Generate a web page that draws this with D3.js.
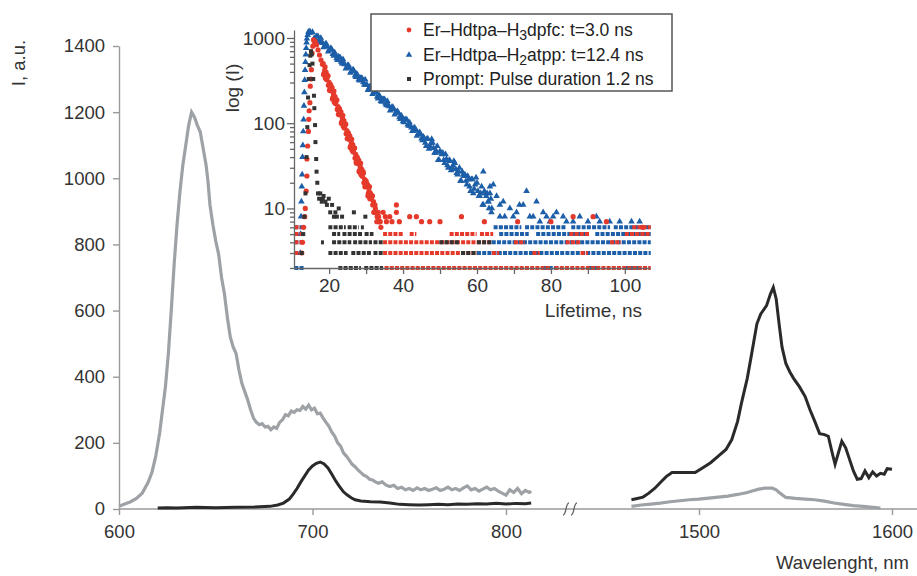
<!DOCTYPE html>
<html>
<head>
<meta charset="utf-8">
<script src="https://cdn.jsdelivr.net/npm/d3@7"></script>
<style>
  body { margin: 0; background: #fff; }
  svg { font-family: "Liberation Sans", Arial, sans-serif; }
  .axis text { fill: #333; }
</style>
</head>
<body>
<svg width="917" height="576"></svg>
<script>
// main spectra [wavelength nm, intensity a.u.]
const grayLeft = [[600,8],[603,15],[606,22],[609,32],[612,48],[615,80],[617,110],[619,160],[621,230],[622.5,300],[624,370],[625.5,470],[627,600],[628.5,740],[630,860],[631.5,960],[633,1040],[634.5,1100],[636,1160],[637.5,1200],[639,1185],[640.5,1160],[642,1140],[643.5,1090],[645,1040],[646,990],[647,920],[648.5,860],[650,810],[651.5,770],[653,700],[654.5,650],[656,580],[657.5,520],[659,490],[660.5,470],[662,420],[663.5,380],[665,355],[666.5,330],[668,300],[669.5,275],[671,262],[672.5,255],[674,258],[675.5,248],[677,250],[678.5,240],[680,248],[681.5,244],[683,262],[684.5,270],[686,285],[687.5,282],[689,296],[690.5,292],[692,300],[693.5,298],[695,310],[696.5,302],[698,314],[699.5,300],[701,305],[702.5,288],[704,290],[705.5,275],[707,262],[708.5,250],[710,232],[711.5,220],[713,200],[714.5,190],[716,170],[717.5,160],[719,148],[720.5,135],[722,128],[723.5,118],[725,110],[726.5,102],[728,98],[729.5,90],[731,88],[732.5,82],[734,78],[736,82],[738,72],[740,68],[742,72],[744,62],[746,66],[748,58],[750,62],[752,56],[754,64],[756,58],[758,62],[760,56],[762,60],[764,64],[766,56],[768,60],[770,66],[772,58],[774,62],[776,56],[778,64],[780,70],[782,58],[784,62],[786,54],[788,60],[790,66],[792,58],[794,62],[796,54],[798,48],[800,42],[802,58],[804,50],[806,62],[808,46],[810,56],[812,50],[813,54]];
const blackLeft = [[620,3],[625,4],[630,3],[640,5],[650,4],[660,5],[670,6],[678,8],[682,12],[685,18],[688,30],[690,45],[692,62],[694,82],[696,100],[698,118],[700,130],[702,138],[704,142],[706,136],[708,124],[710,105],[712,85],[714,68],[716,52],[718,42],[720,34],[722,28],[725,24],[730,22],[735,21],[740,18],[745,14],[750,13],[755,12],[760,13],[765,14],[770,13],[775,15],[780,14],[785,16],[790,15],[795,17],[800,15],[805,17],[810,16],[813,18]];
const blackRight = [[1465,28],[1468,32],[1471,36],[1474,48],[1477,62],[1480,80],[1483,98],[1486,110],[1490,110],[1494,110],[1498,110],[1502,125],[1506,140],[1510,160],[1514,180],[1517,210],[1520,265],[1522,320],[1525,395],[1527,460],[1530,560],[1532,590],[1535,615],[1537,650],[1538.5,670],[1540,635],[1541.5,560],[1543,490],[1545,440],[1547,415],[1549,395],[1552,370],[1555,340],[1557.5,300],[1560,265],[1562.5,228],[1565,225],[1567,220],[1569,170],[1570.5,135],[1572,165],[1574,205],[1576,185],[1578,150],[1580,115],[1582,90],[1584,92],[1586,115],[1588,95],[1590,112],[1592,100],[1594,108],[1596,105],[1597.5,122],[1600,120]];
const grayRight = [[1465,8],[1470,12],[1475,15],[1480,18],[1485,22],[1490,25],[1495,28],[1500,30],[1505,33],[1510,36],[1515,39],[1520,44],[1525,50],[1528,55],[1531,60],[1534,63],[1538,63],[1540,58],[1542,48],[1545,35],[1550,32],[1555,30],[1560,28],[1565,24],[1570,18],[1575,14],[1580,10],[1585,8],[1590,5],[1594,3]];

const yTicks = [0,200,400,600,800,1000,1200,1400];
const xTicksLeft = [600,700,800];
const xTicksRight = [1500,1600];

// inset decay points [t ns, counts]
const redPts = [[12.6,3],[12.8,4],[13.1,6],[13.4,8],[13.55,10],[13.8,16],[14.0,24],[14.0,38],[14.2,54],[14.4,80],[14.5,111],[14.6,140],[14.8,174],[14.9,272],[15.1,330],[15.2,425],[15.4,664],[15.6,800],[15.8,948],[16.0,900],[16.2,912],[16.6,832],[17.0,724],[17.4,631],[17.8,550],[18.2,490],
 [18.4,501],[18.6,385],[18.8,419],[19.0,337],[19.2,394],[19.4,332],[19.6,361],[19.8,278],[20.0,302],[20.2,244],[20.4,284],[20.6,239],[20.8,261],[21.0,200],[21.2,218],[21.4,176],[21.6,205],[21.8,173],[22.0,188],[22.2,145],[22.4,157],[22.6,127],[22.8,148],[23.0,125],[23.2,136],[23.4,104],[23.6,114],[23.8,92],[24.0,107],[24.2,90],[24.4,98],[24.6,75],[24.8,82],[25.0,66],[25.2,77],[25.4,65],[25.6,71],[25.8,54],[26.0,59],[26.2,48],[26.4,56],[26.6,47],[26.8,51],[27.0,39],[27.2,43],[27.4,34],[27.6,40],[27.8,34],[28.0,37],[28.2,28],[28.4,31],[28.6,25],[28.8,29],[29.0,24],[29.2,27],[29.4,20],[29.6,22],[29.8,18],[30.0,21],[30.2,18],[30.4,19],[30.6,15],[30.8,16],[31.0,13],[31.2,15],[31.4,13],[31.6,14],[31.8,11],[32.0,12],[32.2,9],[32.4,11],[32.6,9],[32.8,9],[33.0,8],[33.2,8],[33.4,8],[33.6,7],[33.8,7],[34.0,6],
 [34.6,9],[35.2,8],[35.5,7],[36.4,8],[37,7],[38.2,11],[38.2,9],[39,7],[41.8,8],[43.6,8],[45,7],[47.2,7],[50,7],[55.8,8],[62,7],[71,7],[80,7],[86,8],[91.4,8],[95,7],[104.9,6]];
const redBand = [[18.5,369],[18.9,457],[19.3,326],[19.7,360],[20.1,244],[20.5,270],[20.9,192],[21.3,238],[21.7,170],[22.1,187],[22.5,127],[22.9,141],[23.3,100],[23.7,124],[24.1,88],[24.5,97],[24.9,66],[25.3,73],[25.7,52],[26.1,65],[26.5,46],[26.9,51],[27.3,35],[27.7,38],[28.1,27],[28.5,34],[28.9,24],[29.3,26],[29.7,18],[30.1,20],[30.5,14],[30.9,18],[31.3,13],[31.7,14],[32.1,9],[32.5,10],[32.9,7],[33.3,9],[33.7,7]];
const bluePts = [[12.2,3],[12.3,5],[12.4,8],[12.5,12],[12.6,18],[12.7,25],[12.8,40],[12.9,55],[13.0,80],[13.1,110],[13.2,160],[13.3,230],[13.4,320],[13.5,420],[13.6,520],[13.7,640],[13.8,760],[13.9,880],[14.0,980],[14.2,1080],[14.4,1180],[14.6,1150],[14.8,1200],
 [15.0,1148],[15.5,1175],[16.0,1000],[16.5,1047],[17.0,1047],[17.5,891],[18.0,891],[18.5,776],[19.0,851],[19.5,794],[20.0,724],[20.5,759],[21.0,646],[21.5,676],[22.0,575],[22.5,603],[23.0,589],[23.5,501],[24.0,501],[24.5,437],[25.0,479],[25.5,447],[26.0,407],[26.5,427],[27.0,363],[27.5,380],[28.0,324],[28.5,339],[29.0,331],[29.5,282],[30.0,282],[30.5,245],[31.0,269],[31.5,251],[32.0,229],[32.5,240],[33.0,204],[33.5,214],[34.0,182],[34.5,191],[35.0,191],[35.5,162],[36.0,162],[36.5,141],[37.0,155],[37.5,145],[38.0,132],[38.5,138],[39.0,117],[39.5,123],[40.0,105],[40.5,110],[41.0,110],[41.5,93],[42.0,93],[42.5,81],[43.0,89],[43.5,83],[44.0,74],[44.5,78],[45.0,66],[45.5,69],[46.0,59],
 [46.5,66],[47.0,50],[47.5,58],[48.0,59],[48.5,45],[49.0,47],[49.5,37],[50.0,47],[50.5,43],[51.0,37],[51.5,43],[52.0,32],[52.5,37],[53.0,28],[53.5,32],[54.0,34],[54.5,26],[55.0,27],[55.5,21],[56.0,27],[56.5,24],[57.0,21],[57.5,24],[58.0,18],[58.5,22],[59.0,15],[59.5,19],[60.0,20],[60.5,14],[61.0,15],[61.5,11],[62.0,16],[62.5,14],[63.0,12],[63.5,15],[64.0,10],
 [61.7,27],[63.1,12],[63.5,18],[63.9,9],[64.4,19],[65.3,14],[66.2,8],[66.2,11],[67.1,12],[67.5,8],[68.9,10],[69.8,8],[70.7,9],[71.5,11],[72.5,11],[73.4,16],[74.3,8],[75.2,8],[76.1,12],[77,7],[77.9,9],[78.8,8],[79.7,7],[80.6,8],[81.5,9],[83.3,8],[84.2,7],[86,7],[87.8,8],[90,7],[92.3,8],[93.2,7],[95.9,7],[98.6,7],[101.8,7],[104,7]];
const blueBand = [[16.25,977],[16.75,1047],[17.25,933],[17.75,1000],[18.25,871],[18.75,794],[19.25,851],[19.75,692],[20.25,741],[20.75,724],[21.25,617],[21.75,631],[22.25,550],[22.75,589],[23.25,525],[23.75,562],[24.25,490],[24.75,447],[25.25,479],[25.75,389],[26.25,417],[26.75,407],[27.25,347],[27.75,363],[28.25,316],[28.75,339],[29.25,302],[29.75,324],[30.25,282],[30.75,257],[31.25,269],[31.75,219],[32.25,234],[32.75,229],[33.25,195],[33.75,204],[34.25,178],[34.75,191],[35.25,170],[35.75,182],[36.25,158],[36.75,145],[37.25,155],[37.75,126],[38.25,135],[38.75,132],[39.25,112],[39.75,117],[40.25,102],[40.75,110],[41.25,96],[41.75,102],[42.25,89],[42.75,81],[43.25,87],[43.75,71],[44.25,76],[44.75,74],[45.25,63],[45.75,66],
 [46.25,54],[46.75,65],[47.25,54],[47.75,65],[48.25,51],[48.75,45],[49.25,54],[49.75,37],[50.25,45],[50.75,45],[51.25,34],[51.75,38],[52.25,30],[52.75,36],[53.25,30],[53.75,36],[54.25,29],[54.75,25],[55.25,30],[55.75,21],[56.25,25],[56.75,25],[57.25,19],[57.75,22],[58.25,16],[58.75,22],[59.25,17],[59.75,23],[60.25,16],[60.75,14],[61.25,18],[61.75,11],[62.25,15],[62.75,15],[63.25,10],[63.75,13]];
const blackPts = [[12.6,3],[13.0,5],[13.3,8],[13.6,15],[13.9,40],[14.1,90],[14.3,200],[14.5,330],[14.7,480],[14.9,620],[15.1,700],[15.3,640],[15.5,500],[15.7,330],[15.9,210],[16.0,150],[16.2,95],[16.3,60],[16.5,38],[16.6,27],[16.8,20],[17.0,15],[17.3,13],[17.6,15],[18.0,12],[18.3,13],[18.5,14],[19.0,12],[19.4,11],[19.9,13],[20.3,9],[20.8,11],[21.3,8],[21.7,9],[22.1,8],[22.6,10],[23.5,8],[26.7,9],[29.8,8]];

// floor runs of overlapping markers [t start, t end, counts]
const redRuns = [[10.6,12.2,6],[102,107,6],[10.6,12.5,5],[34.6,40,5],[41.8,43.6,5],[52.6,59.9,5],[60.8,64.4,5],[85,90.5,5],[100,107,5],[10.6,12.6,4],[34.6,64,4],[70,73,4],[84,88,4],[96,99,4],[10.6,12.4,3],[34.6,60,3],[64,66,3],[75,77,3],[88,90,3],[35,80,2],[81,107,2]];
const blueRuns = [[10.6,12.8,6],[64.5,72,6],[73,84,6],[85.5,96,6],[97,107,6],[10.6,12.5,5],[66,74,5],[76,90,5],[92,107,5],[10.6,12.8,4],[64,107,4],[10.6,12.6,3],[60,107,3],[10.6,13.2,2],[78,82,2],[90,93,2],[100,104,2]];
const blackRuns = [[19.8,24.5,6],[25,28,6],[28.6,29.4,6],[20.8,23,5],[23.6,29,5],[29.6,32,5],[17.8,18.6,4],[20.8,26,4],[26.5,31.6,4],[32,34.6,4],[49.8,55.2,4],[60,64,4],[19.8,25,3],[26,31.5,3],[32,34.6,3],[55.7,60,3],[22.5,28.6,2],[29.5,34.6,2]];

const inXTicks = [20,40,60,80,100];
const inXMinor = [30,50,70,90];
const inYTicks = [10,100,1000];
const inYMinor = [2,3,4,5,6,7,8,9,20,30,40,50,60,70,80,90,200,300,400,500,600,700,800,900];

const RED = "#e53a2b", BLUE = "#1d5ea8", DARK = "#333333", GRAY = "#9ea2a6";

const svg = d3.select("svg");
svg.append("rect").attr("width", 917).attr("height", 576).attr("fill", "#fff");

// ---- main chart
const xL = d3.scaleLinear().domain([600, 800]).range([119, 506]);
const xR = d3.scaleLinear().domain([1500, 1600]).range([699, 892]);
const y = d3.scaleLinear().domain([0, 1400]).range([509, 46]);

const yAxis = svg.append("g").attr("class", "axis").attr("transform", "translate(119,0)")
  .call(d3.axisLeft(y).tickValues(yTicks).tickFormat(d3.format("d")).tickSize(6).tickPadding(8).tickSizeOuter(0));
yAxis.selectAll("text").attr("font-size", 18.5).attr("font-family", "Liberation Sans, Arial");

const xaL = svg.append("g").attr("class", "axis").attr("transform", "translate(0,509)")
  .call(d3.axisBottom(xL).tickValues(xTicksLeft).tickFormat(d3.format("d")).tickSize(6).tickPadding(10));
const xaR = svg.append("g").attr("class", "axis").attr("transform", "translate(0,509)")
  .call(d3.axisBottom(xR).tickValues(xTicksRight).tickFormat(d3.format("d")).tickSize(6).tickPadding(10));
[xaL, xaR].forEach(a => {
  a.select(".domain").remove();
  a.selectAll("text").attr("font-size", 18.5).attr("font-family", "Liberation Sans, Arial");
});
svg.append("line").attr("x1", 119).attr("x2", 917).attr("y1", 509).attr("y2", 509);
svg.selectAll(".axis path, .axis line, svg > line").attr("stroke", "#9a9a9a").attr("stroke-width", 1.4);

// axis break marks
[566, 574].forEach(bx => {
  svg.append("path")
    .attr("d", `M${bx-3},${515} Q${bx-1.2},${515} ${bx},${509} T${bx+3},${503}`)
    .attr("fill", "none").attr("stroke", "#666").attr("stroke-width", 1.3);
});

const lineL = d3.line().x(d => xL(d[0])).y(d => y(d[1]));
const lineR = d3.line().x(d => xR(d[0])).y(d => y(d[1]));
svg.append("path").attr("d", lineL(grayLeft)).attr("fill", "none").attr("stroke", GRAY).attr("stroke-width", 3.2);
svg.append("path").attr("d", lineR(grayRight)).attr("fill", "none").attr("stroke", GRAY).attr("stroke-width", 3.2);
svg.append("path").attr("d", lineL(blackLeft)).attr("fill", "none").attr("stroke", "#2a2a2a").attr("stroke-width", 3);
svg.append("path").attr("d", lineR(blackRight)).attr("fill", "none").attr("stroke", "#2a2a2a").attr("stroke-width", 3);

svg.append("text").attr("transform", "translate(25,63) rotate(-90)").attr("text-anchor", "middle")
  .attr("font-size", 18.5).attr("fill", "#333").text("I, a.u.");
svg.append("text").attr("x", 909).attr("y", 569).attr("text-anchor", "end")
  .attr("font-size", 18.5).attr("fill", "#333").text("Wavelenght, nm");

// ---- inset
const xi = d3.scaleLinear().domain([10.5, 106.8]).range([294, 650]);
const yi = d3.scaleLog().domain([2, 1240]).range([268, 30]);
const inset = svg.append("g");

const drawRuns = (runs, color) => {
  inset.selectAll(null).data(runs).enter().append("line")
    .attr("x1", d => xi(d[0])).attr("x2", d => xi(d[1]))
    .attr("y1", d => yi(d[2])).attr("y2", d => yi(d[2]))
    .attr("stroke", color).attr("stroke-width", 4).attr("stroke-dasharray", "4,1.2");
};

drawRuns(blueRuns, BLUE);
inset.selectAll(null).data(bluePts.concat(blueBand)).enter().append("path")
  .attr("transform", d => `translate(${xi(d[0])},${yi(d[1])})`)
  .attr("d", d3.symbol(d3.symbolTriangle, 19)).attr("fill", BLUE);
drawRuns(redRuns, RED);
inset.selectAll(null).data(redPts.concat(redBand)).enter().append("circle")
  .attr("cx", d => xi(d[0])).attr("cy", d => yi(d[1])).attr("r", 2.6).attr("fill", RED);
drawRuns(blackRuns, DARK);
inset.selectAll(null).data(blackPts).enter().append("rect")
  .attr("x", d => xi(d[0]) - 2).attr("y", d => yi(d[1]) - 2).attr("width", 4).attr("height", 4).attr("fill", DARK);

const iy = inset.append("g").attr("class", "axis").attr("transform", "translate(294,0)")
  .call(d3.axisLeft(yi).tickValues(inYTicks).tickFormat(d3.format("d")).tickSize(7).tickPadding(2).tickSizeOuter(0));
inset.append("g").attr("class", "axis").attr("transform", "translate(294,0)")
  .call(d3.axisLeft(yi).tickValues(inYMinor).tickFormat("").tickSize(4).tickSizeOuter(0))
  .select(".domain").remove();
const ix = inset.append("g").attr("class", "axis").attr("transform", "translate(0,268)")
  .call(d3.axisBottom(xi).tickValues(inXTicks).tickSize(6).tickPadding(5).tickSizeOuter(0));
inset.append("g").attr("class", "axis").attr("transform", "translate(0,268)")
  .call(d3.axisBottom(xi).tickValues(inXMinor).tickFormat("").tickSize(6).tickSizeOuter(0))
  .select(".domain").remove();
inset.selectAll(".axis path, .axis line").attr("stroke", "#666").attr("stroke-width", 1.3);
[iy, ix].forEach(a => a.selectAll("text").attr("font-size", 19).attr("font-family", "Liberation Sans, Arial"));

inset.append("text").attr("transform", "translate(239,88) rotate(-90)").attr("text-anchor", "middle")
  .attr("font-size", 19).attr("fill", "#333").text("log (I)");
inset.append("text").attr("x", 642).attr("y", 317).attr("text-anchor", "end")
  .attr("font-size", 19).attr("fill", "#333").text("Lifetime, ns");

// legend
const legend = svg.append("g");
legend.append("rect").attr("x", 371).attr("y", 14).attr("width", 301).attr("height", 77)
  .attr("fill", "#fff").attr("stroke", "#555").attr("stroke-width", 1.5);
const legItems = [
  { color: RED, a: "Er–Hdtpa–H", sub: "3", b: "dpfc: t=3.0 ns", y: 30 },
  { color: BLUE, a: "Er–Hdtpa–H", sub: "2", b: "atpp: t=12.4 ns", y: 55 },
  { color: DARK, a: "Prompt: Pulse duration 1.2 ns", sub: "", b: "", y: 79 }
];
legItems.forEach((d, i) => {
  if (i === 0) legend.append("circle").attr("cx", 409).attr("cy", d.y).attr("r", 2.4).attr("fill", d.color);
  if (i === 1) legend.append("path").attr("transform", `translate(409,${d.y})`).attr("d", d3.symbol(d3.symbolTriangle, 18)).attr("fill", d.color);
  if (i === 2) legend.append("rect").attr("x", 407).attr("y", d.y - 2).attr("width", 4).attr("height", 4).attr("fill", d.color);
  const t = legend.append("text").attr("x", 423).attr("y", d.y + 6).attr("font-size", 17.5).attr("fill", "#222");
  t.append("tspan").text(d.a);
  if (d.sub) {
    t.append("tspan").attr("dy", 4).attr("font-size", 14).text(d.sub);
    t.append("tspan").attr("dy", -4).text(d.b);
  }
});
</script>
</body>
</html>
